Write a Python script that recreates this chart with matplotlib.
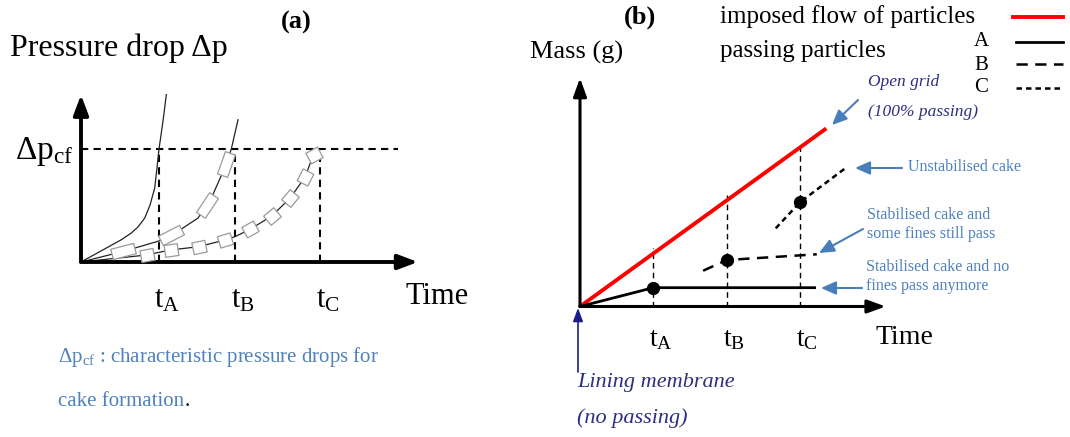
import numpy as np
import matplotlib
matplotlib.use("Agg")
import matplotlib.pyplot as plt
from matplotlib.path import Path
from matplotlib.markers import MarkerStyle
from matplotlib.transforms import Affine2D
from matplotlib.lines import Line2D
from matplotlib.patches import FancyArrowPatch

plt.rcParams["font.family"] = ["Liberation Serif", "DejaVu Serif"]
plt.rcParams["mathtext.fontset"] = "custom"
plt.rcParams["mathtext.rm"] = "Liberation Serif"
plt.rcParams["mathtext.it"] = "Liberation Serif:italic"
plt.rcParams["mathtext.bf"] = "Liberation Serif:bold"

# ---------------- data: panel (a), pressure drop vs time ----------------
t_marks_a = [1.0, 1.97, 3.06]          # t_A, t_B, t_C
dp_cf = 1.0                             # characteristic pressure drop

curve_A_t = [0, 0.517, 0.645, 0.731, 0.817, 0.885, 0.945, 0.974, 1.0, 1.051, 1.094]
curve_A_p = [0, 0.197, 0.257, 0.310, 0.389, 0.504, 0.655, 0.832, 1.0, 1.245, 1.481]

curve_B_t = [0, 0.55, 1.009, 1.244, 1.5, 1.671, 1.842, 1.927, 2.013]
curve_B_p = [0, 0.095, 0.188, 0.272, 0.389, 0.566, 0.832, 1.0, 1.259]

curve_C_t = [0, 0.842, 1.141, 1.504, 1.846, 1.974, 2.167, 2.445, 2.679, 2.872, 2.978]
curve_C_p = [0, 0.062, 0.106, 0.135, 0.195, 0.224, 0.289, 0.407, 0.564, 0.750, 0.947]

markers_B_t = [0.54, 1.15, 1.61, 1.86]
markers_C_t = [0.85, 1.15, 1.51, 1.85, 2.17, 2.45, 2.68, 2.87, 2.99]

# ---------------- data: panel (b), mass vs time ----------------
t_marks_b = [1, 2, 3]
imposed_t = [0, 3.36]
imposed_m = [0, 3.36]
pass_A_t = [0, 1, 3.2]
pass_A_m = [0, 0.355, 0.355]
pass_B_t = [1.68, 2, 3.23]
pass_B_m = [0.675, 0.877, 0.985]
pass_C_t = [2.67, 3, 3.63]
pass_C_m = [1.475, 1.966, 2.62]
dots_t = [1, 2, 3]
dots_m = [0.355, 0.877, 1.966]

W, H = 1070, 437
fig = plt.figure(figsize=(W / 100, H / 100), dpi=100)
# pixel coordinates with y running downwards, used for text layout
pxT = Affine2D().scale(1 / W, -1 / H).translate(0, 1) + fig.transFigure


def make_axes(left_px, right_px, origin, scale):
    ax = fig.add_axes([left_px / W, 0, (right_px - left_px) / W, 1])
    ox, oy = origin
    sx, sy = scale
    ax.set_xlim((left_px - ox) / sx, (right_px - ox) / sx)
    ax.set_ylim((oy - H) / sy, oy / sy)
    ax.axis("off")
    return ax


def axis_arrow(ax, end, lw, hl=1.0, hw=0.45):
    ax.annotate("", xy=end, xytext=(0, 0),
                arrowprops=dict(arrowstyle=f"-|>,head_length={hl},head_width={hw}",
                                color="black", lw=lw, shrinkA=0, shrinkB=0),
                annotation_clip=False)


def ptext(x, y, s, **kw):
    kw.setdefault("va", "center")
    return fig.text(x, y, s, transform=pxT, **kw)


def parrow(start, end, color, lw=1.5, hl=0.9, hw=0.4):
    fig.add_artist(FancyArrowPatch(
        start, end, transform=pxT,
        arrowstyle=f"-|>,head_length={hl*10},head_width={hw*10}",
        color=color, lw=lw, shrinkA=0, shrinkB=0))


# ======================= panel (a) =======================
sxa, sya = 78, 113
ax_a = make_axes(0, 500, (81, 262), (sxa, sya))

for t in t_marks_a:
    ax_a.plot([t, t], [0, dp_cf], color="black", lw=1.5, ls=(0, (3.5, 2.5)))
ax_a.plot([0, 4.06], [dp_cf, dp_cf], color="black", lw=1.5, ls=(0, (3.5, 2.5)))

for ct, cp in [(curve_A_t, curve_A_p), (curve_B_t, curve_B_p), (curve_C_t, curve_C_p)]:
    ax_a.plot(ct, cp, color="#222222", lw=0.9, solid_joinstyle="round")


def rect_marker(angle_deg, ratio):
    verts = [(-1, -ratio), (1, -ratio), (1, ratio), (-1, ratio), (-1, -ratio)]
    codes = [Path.MOVETO, Path.LINETO, Path.LINETO, Path.LINETO, Path.CLOSEPOLY]
    return MarkerStyle(Path(verts, codes), transform=Affine2D().rotate_deg(angle_deg))


def place_markers(ax, ct, cp, mt, size, ratio):
    for t in mt:
        p = np.interp(t, ct, cp)
        dp = np.interp(t + 0.02, ct, cp) - np.interp(t - 0.02, ct, cp)
        ang = np.degrees(np.arctan2(dp * sya, 0.04 * sxa))
        ax.plot([t], [p], marker=rect_marker(ang, ratio), ms=size,
                mfc="white", mec="#9a9a9a", mew=0.9, ls="none", zorder=5)


place_markers(ax_a, curve_B_t, curve_B_p, markers_B_t, 17, 0.45)
place_markers(ax_a, curve_C_t, curve_C_p, markers_C_t, 9.5, 0.9)

axis_arrow(ax_a, (0, 1.48), 2.8, 1.2, 0.45)
axis_arrow(ax_a, (4.32, 0), 2.8, 1.2, 0.45)

ptext(296, 22, "(a)", ha="center", fontsize=19, fontweight="bold")
ptext(10, 48, "Pressure drop Δp", ha="left", fontsize=23)
ptext(15, 152, r"$\mathrm{Δp}_{\mathrm{cf}}$", ha="left", fontsize=24)
for t, lab in zip(t_marks_a, ["A", "B", "C"]):
    ax_a.text(t + 0.1, (262 - 300) / sya, r"$\mathrm{t}_{\mathrm{%s}}$" % lab,
              ha="center", va="center", fontsize=22)
ptext(405, 297, "Time", ha="left", fontsize=22)

blue_txt = "#4f81bd"
ptext(58, 357, r"$\mathrm{Δp}_{\mathrm{cf}}$ : characteristic pressure drops for",
      ha="left", fontsize=15, color=blue_txt)
t1 = ptext(58, 406, "cake formation", ha="left", fontsize=15, color=blue_txt, va="baseline")
ax_a.annotate(".", xy=(1, 0), xycoords=t1, ha="left", va="bottom", fontsize=15, color="black")

# ======================= panel (b) =======================
ax_b = make_axes(500, 1070, (580, 306.5), (73.3, 53))

for t in t_marks_b:
    ax_b.plot([t, t], [0, np.interp(t, imposed_t, imposed_m) + 0.1], color="black",
              lw=1.0, ls=(0, (4, 3)), zorder=1)

ax_b.plot(imposed_t, imposed_m, color="#ff0000", lw=2.8, solid_capstyle="butt", zorder=3)
ax_b.plot(pass_A_t, pass_A_m, color="black", lw=2.0, zorder=3)
ax_b.plot(pass_B_t, pass_B_m, color="black", lw=1.8, ls=(0, (4.5, 3)), zorder=3)
ax_b.plot(pass_C_t, pass_C_m, color="black", lw=1.8, ls=(0, (2.2, 1.6)), zorder=3)
ax_b.plot(dots_t, dots_m, "o", color="black", ms=8.5, zorder=4)

axis_arrow(ax_b, (0, 4.31), 2.2, 1.1, 0.4)
axis_arrow(ax_b, (4.17, 0), 2.2, 1.1, 0.4)

ptext(640, 17, "(b)", ha="center", fontsize=19, fontweight="bold")
ptext(530, 52, "Mass (g)", ha="left", fontsize=19)
ptext(720, 17, "imposed flow of particles", ha="left", fontsize=18)
ptext(720, 51, "passing particles", ha="left", fontsize=18)
for y, lab in zip([42, 65, 88], ["A", "B", "C"]):
    ptext(981, y, lab, ha="center", fontsize=15)

# legend keys
fig.add_artist(Line2D([1013, 1063], [17, 17], transform=pxT, color="#ff0000", lw=2.8))
fig.add_artist(Line2D([1016, 1063], [42, 42], transform=pxT, color="black", lw=2.0))
fig.add_artist(Line2D([1016, 1063], [64, 64], transform=pxT, color="black", lw=1.8,
                      ls=(0, (4.5, 3))))
fig.add_artist(Line2D([1016, 1063], [88, 88], transform=pxT, color="black", lw=1.8,
                      ls=(0, (2.2, 1.6))))

for t, lab in zip(t_marks_b, ["A", "B", "C"]):
    ax_b.text(t + 0.1, (306.5 - 340) / 53, r"$\mathrm{t}_{\mathrm{%s}}$" % lab,
              ha="center", va="center", fontsize=20)
ptext(875, 337, "Time", ha="left", fontsize=20)

navy = "#2e2e82"
arrow_blue = "#4a7ebb"
ptext(868, 82, "Open grid", ha="left", fontsize=12.5, style="italic", color=navy)
ptext(868, 112, "(100% passing)", ha="left", fontsize=12.5, style="italic", color=navy)
ptext(908, 167, "Unstabilised cake", ha="left", fontsize=11.5, color=blue_txt)
ptext(867, 215, "Stabilised cake and", ha="left", fontsize=11.5, color=blue_txt)
ptext(867, 234, "some fines still pass", ha="left", fontsize=11.5, color=blue_txt)
ptext(866, 267, "Stabilised cake and no", ha="left", fontsize=11.5, color=blue_txt)
ptext(866, 286, "fines pass anymore", ha="left", fontsize=11.5, color=blue_txt)
ptext(577, 383, "Lining membrane", ha="left", fontsize=16, style="italic", color=navy)
ptext(577, 418, "(no passing)", ha="left", fontsize=16, style="italic", color=navy)

parrow((858, 100), (832, 125), arrow_blue)
parrow((902, 168), (855, 168), arrow_blue)
parrow((863, 229), (819, 253), arrow_blue)
parrow((862, 288), (821, 288), arrow_blue)
parrow((578, 372), (578, 308), "#1c1c8a", lw=1.2, hl=0.8, hw=0.3)

fig.savefig("out.png", dpi=100)
